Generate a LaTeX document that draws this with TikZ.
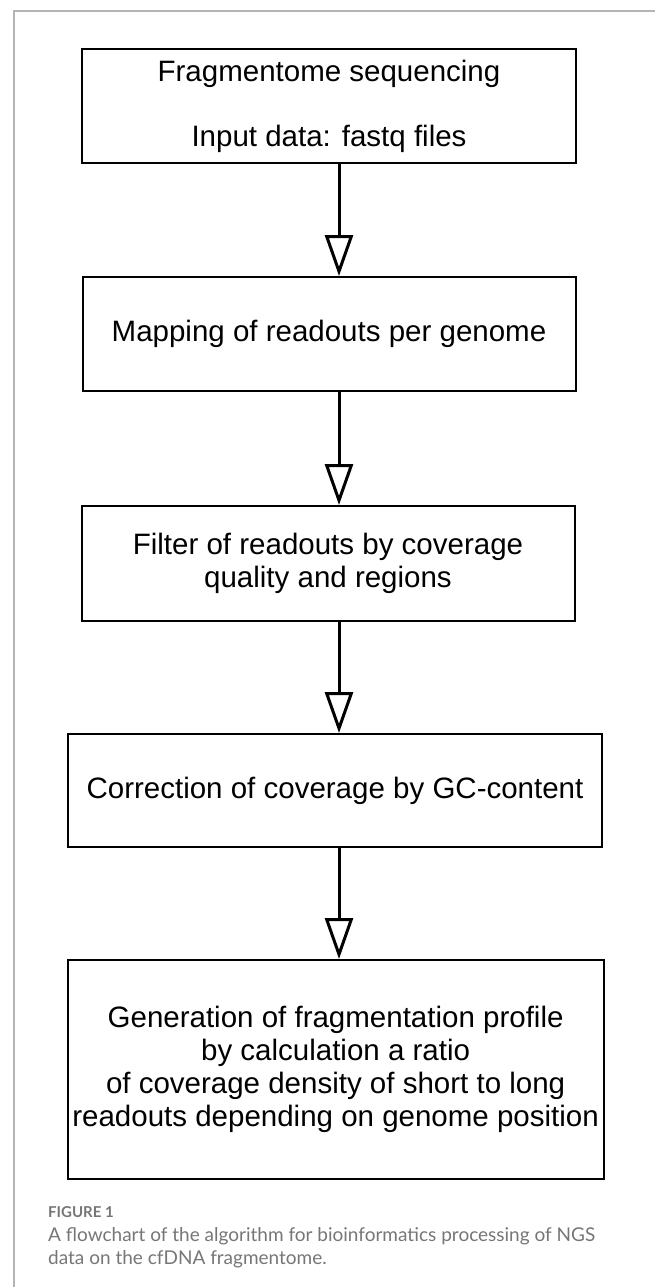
\documentclass[tikz,border=0pt]{standalone}
\usepackage{fontspec}
\setmainfont{Liberation Sans}
\newfontfamily\capfont{Lato}
\usetikzlibrary{arrows.meta}
\definecolor{framegray}{HTML}{B4B4B4}
\definecolor{capgray}{HTML}{767676}
\begin{document}
\begin{tikzpicture}[x=1pt,y=-1pt,
  box/.style={draw=black,line width=2pt,align=center,inner sep=0pt,
    font=\fontsize{29.5}{33}\selectfont},
  flow/.style={line width=3pt,-{Triangle[open,length=41pt,width=28pt,fill=white]}},
  captext/.style={anchor=base west,align=left,inner sep=0pt,text=capgray}]
\useasboundingbox (0,0) rectangle (655,1287);
\draw[framegray,line width=1.2pt] (655,11) -- (14,11) -- (14,1287);

\node[box,minimum width=494pt,minimum height=114pt] (b1) at (329,106)
  {Fragmentome sequencing\\[32pt]Input data: fastq files};
\node[box,minimum width=493pt,minimum height=114pt] (b2) at (329,334)
  {Mapping of readouts per genome};
\node[box,minimum width=493pt,minimum height=115pt] (b3) at (328,563.5)
  {Filter of readouts by coverage\\quality and regions};
\node[box,minimum width=534pt,minimum height=113pt] (b4) at (335,790.5)
  {Correction of coverage by GC-content};
\node[box,minimum width=536pt,minimum height=219pt] (b5) at (335.6,1069.5)
  {Generation of fragmentation profile\\by calculation a ratio\\of coverage density of short to long\\readouts depending on genome position};

\coordinate (ax) at (339,0);
\draw[flow] (b1.south -| ax) -- (b2.north -| ax);
\draw[flow] (b2.south -| ax) -- (b3.north -| ax);
\draw[flow] (b3.south -| ax) -- (b4.north -| ax);
\draw[flow] (b4.south -| ax) -- (b5.north -| ax);

\node[captext,font=\capfont\bfseries\fontsize{15}{18}\selectfont] (fig) at (48,1217.5) {FIGURE 1};
\node[captext,font=\capfont\fontsize{19}{23.5}\selectfont] (cap) at (48,1264.5)
  {A flowchart of the algorithm for bioinformatics processing of NGS\\data on the cfDNA fragmentome.};
\end{tikzpicture}
\end{document}
